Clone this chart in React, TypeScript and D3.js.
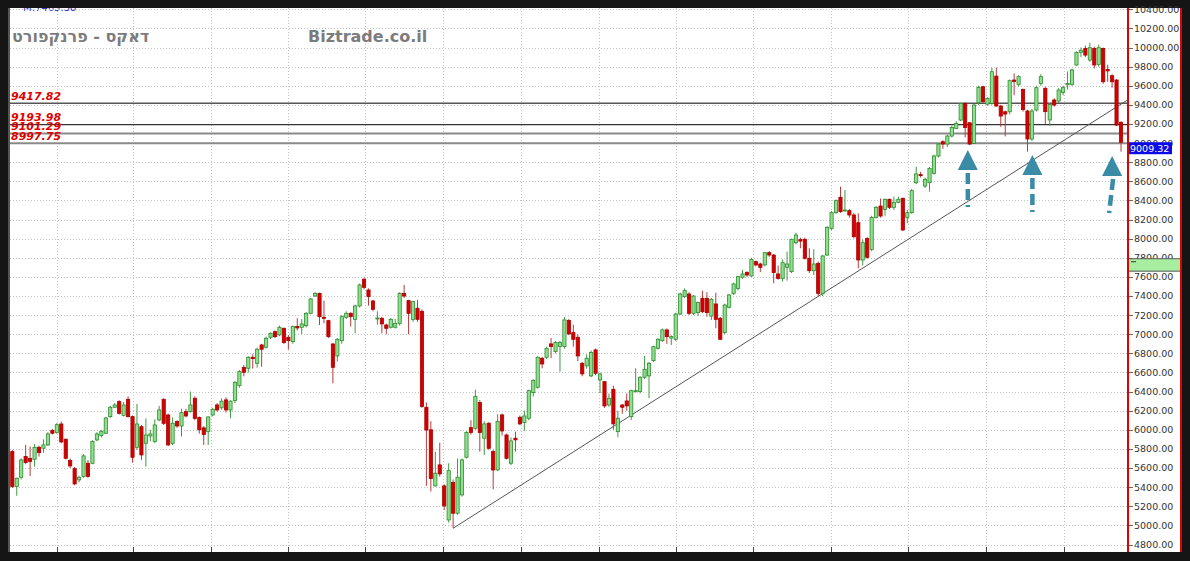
import React from 'react';
import * as d3 from 'd3';

// weekly candles
const opens = [
  5772, 5406, 5503, 5720, 5700, 5692, 5817, 5807, 5842, 5992,
  5971, 6061, 5901, 5678, 5594, 5476, 5511, 5650, 5650, 5894,
  5940, 5964, 6138, 6236, 6295, 6152, 6319, 6138, 5817, 6033,
  5859, 5936, 5877, 6103, 6319, 6155, 5859, 6086, 6040, 6190,
  6190, 6330, 6130, 6020, 5980, 6155, 6260, 6230, 6313, 6208,
  6306, 6463, 6651, 6644, 6759, 6696, 6888, 6864, 6968, 7027,
  6993, 7062, 6968, 6923, 7080, 7073, 7090, 7219, 7400, 7428,
  7177, 7142, 6898, 6773, 6933, 7177, 7219, 7156, 7296, 7575,
  7463, 7348, 7160, 7167, 7097, 7073, 7073, 7114, 7428, 7352,
  7156, 7272, 7240, 6236, 6000, 5413, 5633, 5413, 5057, 5448,
  5127, 5319, 5713, 6023, 6016, 6285, 5912, 6069, 5772, 5580,
  6156, 5946, 5650, 5912, 6131, 6076, 6121, 6389, 6445, 6749,
  6759, 6899, 6818, 6871, 6871, 7143, 7017, 6968, 6696, 6669,
  6564, 6836, 6522, 6504, 6260, 6424, 5981, 6260, 6302, 6138,
  6400, 6400, 6550, 6564, 6724, 6853, 6933, 7045, 6960, 6947,
  7212, 7394, 7421, 7219, 7226, 7376, 7376, 7191, 7317, 7167,
  7017, 7282, 7428, 7480, 7596, 7645, 7610, 7760, 7735, 7725,
  7854, 7829, 7631, 7585, 7700, 7655, 7958, 7990, 7993, 7795,
  7665, 7742, 7428, 7829, 8108, 8272, 8433, 8290, 8293, 8248,
  8167, 7777, 8003, 7888, 8223, 8342, 8307, 8412, 8328, 8380,
  8422, 8223, 8272, 8586, 8670, 8551, 8586, 8684, 8865, 9014,
  8990, 9074, 9154, 9241, 9415, 9213, 8997, 9422, 9590, 9408,
  9415, 9701, 9388, 9328, 9328, 9660, 9615, 9560, 9336, 9043,
  9346, 9625, 9573, 9242, 9451, 9440, 9531, 9610, 9615, 9817,
  9950, 9991, 9869, 9991, 9824, 9991, 9770, 9705, 9660, 9217,
];
const highs = [
  5790, 5500, 5700, 5842, 5825, 5850, 5835, 5900, 5975, 6010,
  6070, 6085, 5910, 5700, 5610, 5520, 5745, 5685, 5890, 5975,
  6000, 6135, 6250, 6280, 6310, 6290, 6350, 6150, 6270, 6050,
  6120, 6000, 6110, 6250, 6330, 6170, 6130, 6100, 6220, 6220,
  6400, 6350, 6140, 6040, 6140, 6230, 6280, 6330, 6340, 6310,
  6510, 6625, 6680, 6770, 6790, 6860, 6900, 6975, 7020, 7040,
  7090, 7070, 6990, 7090, 7167, 7160, 7230, 7380, 7440, 7435,
  7352, 7150, 6910, 6960, 7200, 7240, 7230, 7310, 7530, 7596,
  7480, 7360, 7240, 7180, 7110, 7170, 7160, 7440, 7516, 7360,
  7350, 7360, 7260, 6287, 6090, 5772, 5866, 5430, 5650, 5480,
  5700, 5700, 5985, 6100, 6420, 6310, 6090, 6080, 5790, 6163,
  6170, 5960, 5920, 5981, 6150, 6200, 6420, 6530, 6770, 6760,
  6870, 6960, 6930, 6930, 7180, 7160, 7100, 7000, 6710, 6790,
  6830, 6850, 6600, 6510, 6380, 6460, 6200, 6270, 6380, 6420,
  6644, 6560, 6773, 6710, 6880, 6960, 7060, 7060, 6990, 7225,
  7435, 7480, 7440, 7410, 7340, 7456, 7440, 7380, 7435, 7180,
  7320, 7420, 7540, 7610, 7672, 7660, 7800, 7770, 7750, 7860,
  7870, 7840, 7720, 7784, 7864, 8000, 8063, 8010, 8010, 7900,
  7890, 7760, 7830, 8130, 8290, 8410, 8544, 8509, 8310, 8270,
  8265, 7990, 8015, 8240, 8340, 8420, 8420, 8420, 8440, 8440,
  8430, 8300, 8520, 8753, 8700, 8640, 8750, 8880, 9000, 9030,
  9090, 9180, 9230, 9420, 9430, 9220, 9410, 9600, 9600, 9480,
  9790, 9790, 9400, 9340, 9665, 9730, 9710, 9570, 9350, 9360,
  9600, 9720, 9590, 9420, 9470, 9575, 9600, 9750, 9780, 9960,
  10000, 10020, 10050, 10010, 10030, 10000, 9820, 9720, 9670, 9230,
];
const lows = [
  5390, 5310, 5480, 5640, 5517, 5615, 5720, 5760, 5830, 5950,
  5960, 5860, 5690, 5600, 5420, 5450, 5500, 5500, 5640, 5880,
  5920, 5955, 6125, 6230, 6160, 6140, 6130, 5657, 5790, 5685,
  5615, 5880, 5860, 6090, 6050, 5830, 5840, 6020, 5930, 6130,
  6180, 6100, 5960, 5842, 5842, 6140, 6190, 6210, 6180, 6121,
  6280, 6440, 6560, 6600, 6640, 6650, 6660, 6850, 6950, 6960,
  6980, 6900, 6840, 6900, 7040, 7000, 7070, 7210, 7390, 7097,
  7115, 6960, 6487, 6714, 6900, 7160, 7080, 7010, 7280, 7470,
  7300, 7240, 7100, 7010, 7000, 7060, 7060, 7090, 7380, 7000,
  7130, 7130, 6230, 5413, 5354, 5406, 5510, 5162, 5030, 4970,
  5110, 5300, 5700, 5950, 6000, 5772, 5737, 5790, 5378, 5570,
  5940, 5690, 5630, 5772, 6050, 5990, 6100, 6348, 6430, 6644,
  6740, 6750, 6800, 6609, 6850, 6990, 6870, 6720, 6560, 6640,
  6550, 6570, 6383, 6230, 6240, 6000, 5922, 6170, 6200, 6103,
  6390, 6380, 6530, 6330, 6710, 6840, 6920, 6900, 6888, 6930,
  7200, 7380, 7200, 7200, 7190, 7220, 7184, 7150, 7062, 6940,
  7000, 7270, 7410, 7460, 7580, 7600, 7600, 7710, 7650, 7710,
  7810, 7533, 7570, 7550, 7561, 7640, 7940, 7900, 7780, 7640,
  7620, 7400, 7400, 7820, 8090, 8260, 8270, 8283, 8220, 8004,
  7690, 7720, 7790, 7870, 8210, 8220, 8240, 8310, 8300, 8370,
  8080, 8160, 8260, 8570, 8640, 8530, 8492, 8670, 8850, 8940,
  8960, 9060, 9150, 9230, 9060, 8980, 8990, 9400, 9420, 9390,
  9400, 9380, 9170, 9070, 9300, 9500, 9590, 9330, 8910, 9020,
  9330, 9600, 9200, 9180, 9380, 9420, 9500, 9560, 9600, 9810,
  9900, 9900, 9850, 9780, 9800, 9620, 9642, 9580, 9180, 8910,
];
const closes = [
  5406, 5493, 5685, 5657, 5670, 5817, 5761, 5842, 5957, 5964,
  6054, 5873, 5702, 5622, 5434, 5503, 5727, 5511, 5877, 5957,
  5985, 6124, 6236, 6260, 6173, 6260, 6138, 5713, 6061, 5737,
  5946, 5957, 6051, 6208, 6068, 5842, 6068, 6040, 6180, 6145,
  6260, 6120, 6000, 5950, 6135, 6215, 6208, 6300, 6208, 6300,
  6497, 6609, 6602, 6759, 6745, 6843, 6843, 6958, 7010, 6975,
  7073, 6912, 6933, 7080, 7066, 7108, 7219, 7369, 7428, 7184,
  7170, 6975, 6654, 6947, 7184, 7219, 7184, 7296, 7516, 7491,
  7394, 7261, 7170, 7108, 7062, 7156, 7114, 7428, 7400, 7219,
  7341, 7156, 6243, 5998, 5490, 5546, 5539, 5204, 5573, 5127,
  5504, 5685, 5971, 5971, 6348, 5971, 6062, 5807, 5580, 6086,
  5988, 5702, 5884, 5895, 6062, 6145, 6410, 6515, 6759, 6689,
  6853, 6871, 6913, 6913, 7150, 7003, 6947, 6773, 6585, 6749,
  6808, 6592, 6585, 6250, 6330, 6062, 6121, 6236, 6250, 6410,
  6410, 6550, 6633, 6696, 6870, 6947, 7045, 6975, 6975, 7212,
  7421, 7456, 7219, 7400, 7331, 7236, 7226, 7366, 7156, 6947,
  7306, 7411, 7526, 7603, 7631, 7620, 7784, 7725, 7700, 7854,
  7829, 7645, 7585, 7749, 7735, 7993, 8038, 7975, 7795, 7665,
  7735, 7428, 7819, 8119, 8272, 8398, 8283, 8300, 8248, 8021,
  7777, 7958, 7805, 8223, 8328, 8237, 8412, 8328, 8380, 8412,
  8091, 8272, 8502, 8677, 8660, 8621, 8736, 8865, 8990, 8990,
  9074, 9164, 9206, 9415, 9164, 8990, 9398, 9583, 9433, 9468,
  9747, 9388, 9283, 9304, 9653, 9645, 9695, 9350, 9043, 9336,
  9580, 9695, 9329, 9405, 9398, 9555, 9580, 9625, 9765, 9949,
  9972, 9921, 9998, 9817, 9998, 9642, 9755, 9642, 9189, 9009,
];

const priceTicks = [
  4800, 5000, 5200, 5400, 5600, 5800, 6000, 6200, 6400, 6600, 6800, 7000, 7200, 7400,
  7600, 7800, 8000, 8200, 8400, 8600, 8800, 9000, 9200, 9400, 9600, 9800, 10000, 10200, 10400,
];
// vertical grid, in weeks from the first candle
const gridWeeks = [10, 27.1, 44.6, 61.9, 79.2, 96.7, 114.2, 131.8, 149, 166.3, 183.9, 201.2, 218.7, 236.3];
const levels = [9417.82, 9193.98, 9101.29, 8997.75];
const levelColors = ['#555', '#333', '#8a8a8a', '#8a8a8a'];
const levelWidths = [1.5, 1.3, 2, 2];
const trendWeeks = [99, 250.6];
const trendPrices = [4970, 9455];
const arrowWeeks = [214.6, 229.1, 247];
const arrowTips = [8928, 8876, 8865];
const lastPrice = 9009.32;
const markerBand = [7790, 7660];

const W = 1190;
const H = 561;
const left = 10;
const plotRight = 1128;
const axisRight = 1181;
const top = 8;
const bottom = 552;

const x = d3.scaleLinear().domain([0, closes.length - 1]).range([12.3, 1121]);
const y = d3.scaleLinear().domain([4800, 10400]).range([544.5, 9.3]);

const fmt = d3.format('.2f');
const arrowColor = '#3a8ba6';

const App = () => {
  const trend = d3.line<number>()
    .x((w) => x(w))
    .y((_, i) => y(trendPrices[i]));

  return (
    <div style={{ position: 'fixed', left: 0, top: 0, width: W, height: H, background: '#151515' }}>
      <svg width={W} height={H} style={{ display: 'block' }}>
        <defs>
          <clipPath id="plot">
            <rect x={left} y={top} width={plotRight - left} height={bottom - top} />
          </clipPath>
        </defs>
        <rect x={0} y={0} width={W} height={H} fill="#151515" />
        <rect x={left} y={top} width={axisRight - left} height={bottom - top} fill="#fff" />

        <text x={23} y={11} fontFamily="DejaVu Sans, sans-serif" fontSize={10} fill="#3333cc">M:7465.38</text>
        <rect x={0} y={0} width={W} height={top} fill="#151515" />

        {/* grid */}
        <g stroke="#c4c4c4" strokeWidth={1} strokeDasharray="1,2">
          {priceTicks.map((p) => (
            <line key={p} x1={left} x2={plotRight} y1={Math.round(y(p)) + 0.5} y2={Math.round(y(p)) + 0.5} />
          ))}
          {gridWeeks.map((w) => (
            <line key={w} x1={Math.round(x(w)) + 0.5} x2={Math.round(x(w)) + 0.5} y1={top} y2={bottom} />
          ))}
        </g>
        <g stroke="#444" strokeWidth={1}>
          {gridWeeks.map((w) => (
            <line key={w} x1={Math.round(x(w)) + 0.5} x2={Math.round(x(w)) + 0.5} y1={bottom - 5} y2={bottom} />
          ))}
        </g>

        <text x={12} y={42} fontFamily="DejaVu Sans, sans-serif" fontWeight="bold" fontSize={16} fill="#7c7c7c">
          דאקס - פרנקפורט
        </text>
        <text x={308} y={42} fontFamily="DejaVu Sans, sans-serif" fontWeight="bold" fontSize={16} fill="#7c7c7c">
          Biztrade.co.il
        </text>

        <g clipPath="url(#plot)">
          {/* support / resistance levels */}
          {levels.map((p, i) => (
            <line key={p} x1={left} x2={plotRight} y1={y(p)} y2={y(p)} stroke={levelColors[i]} strokeWidth={levelWidths[i]} />
          ))}

          <path d={trend(trendWeeks) || ''} fill="none" stroke="#555" strokeWidth={1} />

          {/* candles */}
          {closes.map((c, i) => {
            const o = opens[i];
            const up = c >= o;
            const cx = x(i);
            const yTop = y(Math.max(o, c));
            const h = Math.max(1, Math.abs(y(o) - y(c)));
            return (
              <g key={i}>
                <line x1={cx} x2={cx} y1={y(highs[i])} y2={y(lows[i])} stroke={up ? '#3f9a3f' : '#b83a3a'} strokeWidth={1} />
                <rect x={cx - 1.6} y={yTop} width={3.2} height={h}
                  fill={up ? '#8ee08e' : '#d40000'} stroke={up ? '#2e8a2e' : '#a80000'} strokeWidth={0.8} />
              </g>
            );
          })}

          {/* arrows */}
          {arrowWeeks.map((w, i) => {
            const ax = x(w);
            const ty = y(arrowTips[i]);
            const tilt = i === 2 ? -3 : 0;
            return (
              <g key={w}>
                <path d={`M${ax},${ty} L${ax - 10},${ty + 20} L${ax + 10},${ty + 20} Z`} fill={arrowColor} />
                <line x1={ax + (i === 2 ? 1 : 0)} y1={ty + 23} x2={ax + tilt} y2={ty + 57}
                  stroke={arrowColor} strokeWidth={4.5} strokeDasharray="11,5" />
              </g>
            );
          })}
        </g>

        {levels.map((p) => (
          <text key={p} x={11} y={y(p) - 3.5} fontFamily="DejaVu Sans, sans-serif" fontWeight="bold"
            fontStyle="italic" fontSize={11} fill="#e00000">
            {fmt(p)}
          </text>
        ))}

        {/* right price axis */}
        <g fontFamily="DejaVu Sans, sans-serif" fontSize={9.5} fill="#333">
          {priceTicks.map((p) => (
            <g key={p}>
              <line x1={plotRight} x2={plotRight + 5} y1={Math.round(y(p)) + 0.5} y2={Math.round(y(p)) + 0.5} stroke="#666" />
              <text x={1134} y={y(p)} dy="0.36em">{fmt(p)}</text>
            </g>
          ))}
        </g>
        <rect x={plotRight} y={y(markerBand[0])} width={axisRight - plotRight} height={y(markerBand[1]) - y(markerBand[0])}
          fill="#a8eea0" stroke="#555" strokeWidth={1} />
        <line x1={plotRight + 3} x2={plotRight + 8} y1={y(markerBand[0]) + 3} y2={y(markerBand[0]) + 3} stroke="#333" />
        <rect x={plotRight} y={y(lastPrice)} width={44} height={12} fill="#0a0ae6" />
        <text x={plotRight + 2} y={y(lastPrice) + 6} dy="0.36em" fontFamily="DejaVu Sans, sans-serif" fontSize={9.5} fill="#fff">
          {fmt(lastPrice)}
        </text>

        <line x1={plotRight} x2={plotRight} y1={top} y2={bottom} stroke="#e00000" strokeWidth={2} />
        <line x1={axisRight} x2={axisRight} y1={top} y2={bottom} stroke="#e00000" strokeWidth={2} />
        <line x1={left - 1} x2={left - 1} y1={top} y2={bottom} stroke="#555" strokeWidth={2} />
      </svg>
    </div>
  );
};

export default App;
